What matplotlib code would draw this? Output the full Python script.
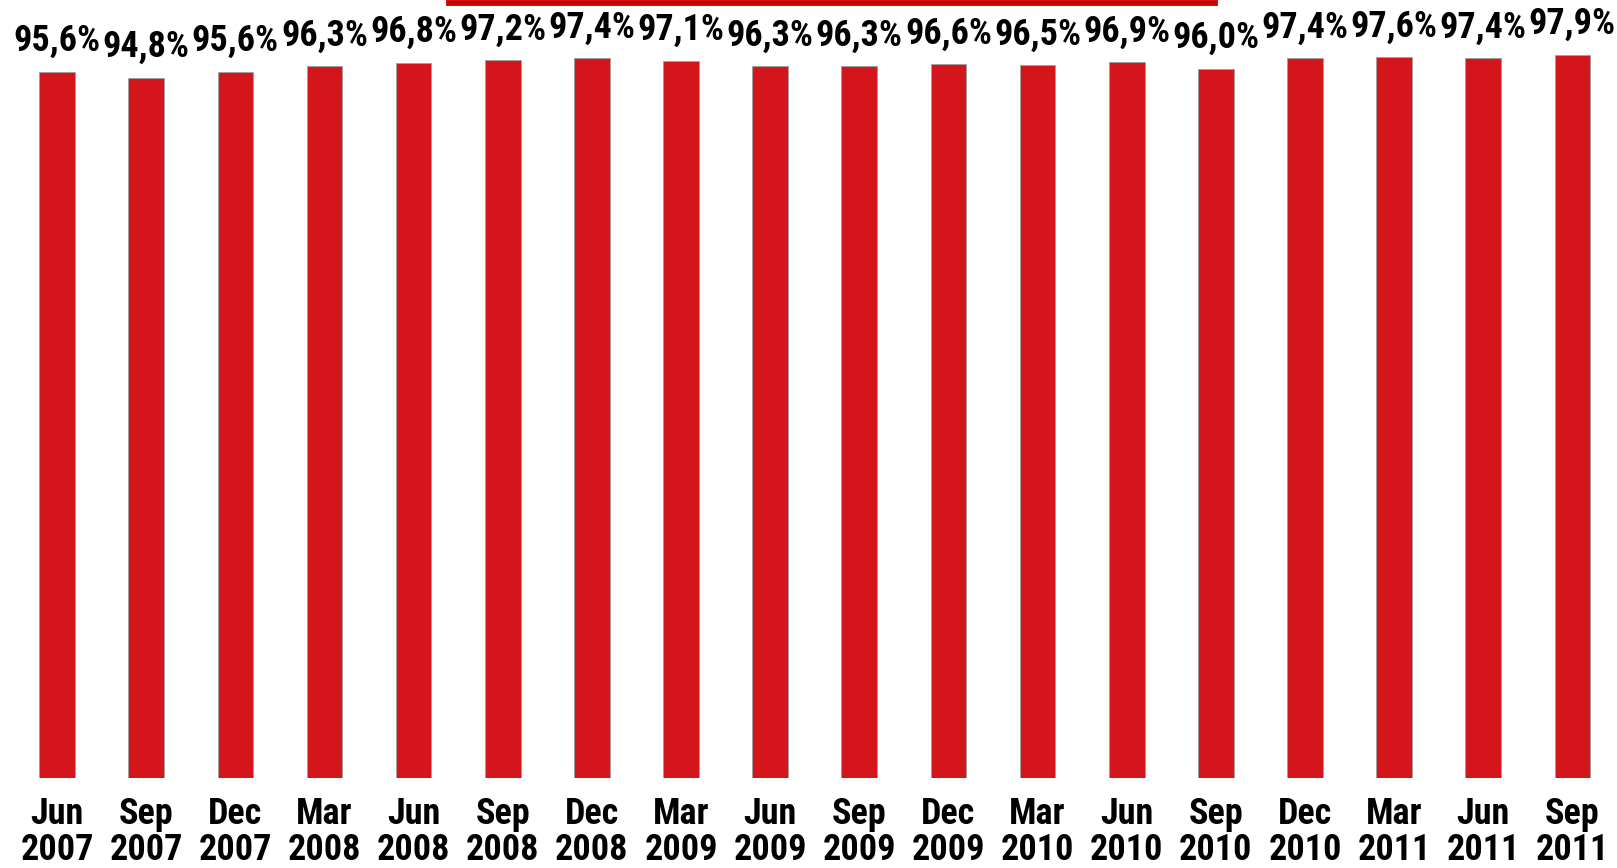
import matplotlib
matplotlib.use("Agg")
import matplotlib.pyplot as plt

periods = ["Jun\n2007", "Sep\n2007", "Dec\n2007", "Mar\n2008", "Jun\n2008", "Sep\n2008",
           "Dec\n2008", "Mar\n2009", "Jun\n2009", "Sep\n2009", "Dec\n2009", "Mar\n2010",
           "Jun\n2010", "Sep\n2010", "Dec\n2010", "Mar\n2011", "Jun\n2011", "Sep\n2011"]
values = [95.6, 94.8, 95.6, 96.3, 96.8, 97.2, 97.4, 97.1, 96.3, 96.3, 96.6, 96.5,
          96.9, 96.0, 97.4, 97.6, 97.4, 97.9]

# condensed bold sans, close to the squeezed Arial of the original
plt.rcParams['font.family'] = ["Roboto Condensed", "Liberation Sans", "DejaVu Sans"]

fig = plt.figure(figsize=(16.17, 8.68), dpi=100)
ax = fig.add_axes([12.5 / 1617, 90 / 868, 1 - 12.5 / 1617, 778 / 868])

x = range(len(values))
ax.bar(x, values, width=0.4, color="#d4151b", edgecolor="#a0a0a0", linewidth=0.6)

for xi, v in zip(x, values):
    ax.annotate(f"{v:.1f}%".replace(".", ","), (xi, v), xytext=(0, 9),
                textcoords="offset points", ha="center", va="bottom",
                fontsize=26, fontweight="bold")

ax.set_xlim(-0.5, len(values) - 0.5)
ax.set_ylim(0, 105.3)
ax.set_xticks(list(x))
ax.set_xticklabels(periods, fontsize=26, fontweight="bold", linespacing=1.0)
ax.tick_params(axis="x", length=0, pad=13)
ax.set_yticks([])
for s in ax.spines.values():
    s.set_visible(False)

# red bar along the top edge (part of a cut-off title)
fig.add_artist(plt.Line2D([449 / 1617, 1215 / 1617], [1 - 3 / 868, 1 - 3 / 868],
                          color="#d00000", linewidth=4.2, transform=fig.transFigure))

fig.savefig("out.png", dpi=100)
